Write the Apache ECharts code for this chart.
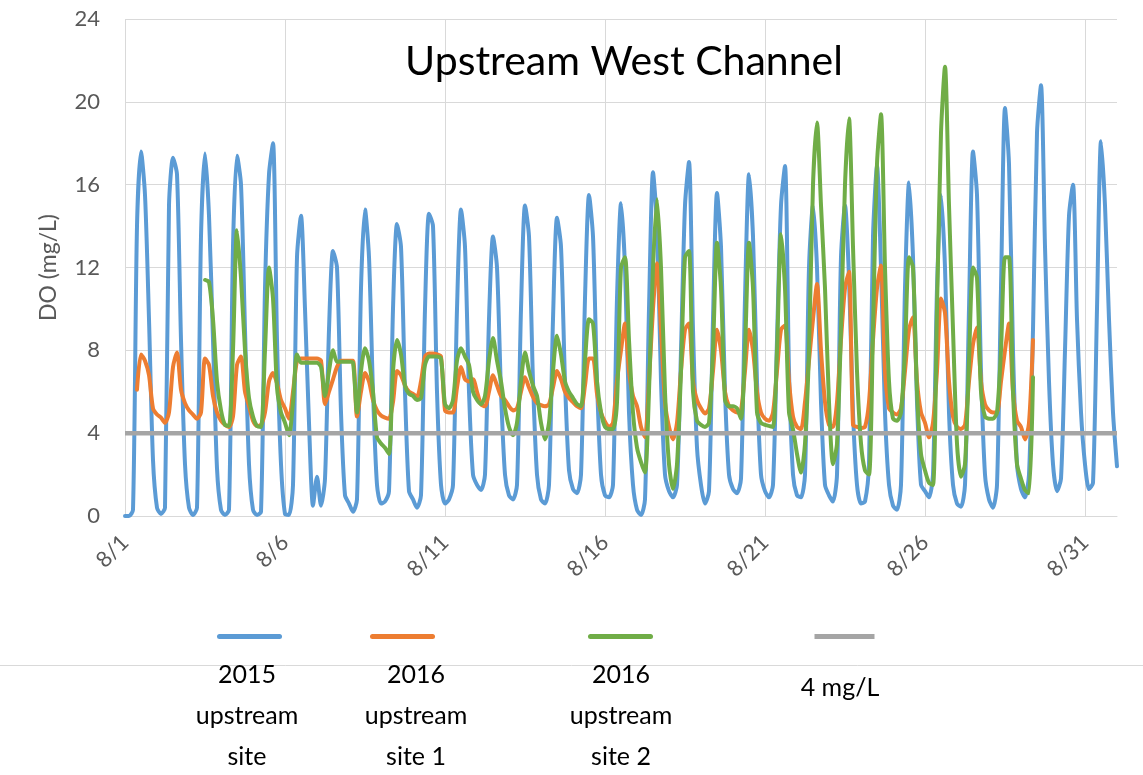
<!DOCTYPE html>
<html><head><meta charset="utf-8">
<script src="https://cdn.jsdelivr.net/npm/echarts@6/dist/echarts.min.js"></script>
<style>html,body{margin:0;padding:0;background:#fff}#c{width:1143px;height:775px}</style>
</head><body><div id="c"></div>
<script>
// Sample times within each day (hours); each row below = one day starting 8/1
const sampleHours = [0, 3, 6, 9, 12, 15, 18, 21];
const xTickLabels = ['8/1', '8/6', '8/11', '8/16', '8/21', '8/26', '8/31'];
const seriesNames = ['2015 upstream site', '2016 upstream site 1', '2016 upstream site 2', '4 mg/L'];
const thresholdDO = 4;

const upstream2015 = [
  [0.0, 0.0, 0.3, 14.0, 17.6, 15.5, 9.5, 2.7],
  [0.4, 0.1, 0.4, 15.0, 17.3, 16.5, 8.5, 2.5],
  [0.4, 0.05, 0.4, 13.5, 17.5, 14.5, 8.5, 2.3],
  [0.3, 0.05, 0.3, 13.0, 17.4, 16.0, 9.0, 2.5],
  [0.3, 0.05, 0.2, 11.0, 16.5, 18.0, 8.5, 2.5],
  [0.1, 0.05, 1.5, 12.5, 14.5, 10.0, 4.5, 0.5],
  [1.9, 0.5, 1.8, 9.0, 12.8, 12.0, 5.0, 1.0],
  [0.6, 0.2, 0.8, 11.0, 14.8, 12.5, 6.0, 1.5],
  [0.6, 0.7, 1.2, 10.0, 14.1, 13.0, 6.0, 1.2],
  [0.8, 0.4, 1.0, 10.0, 14.6, 14.0, 6.0, 1.5],
  [0.6, 0.8, 1.5, 10.0, 14.8, 13.0, 6.0, 2.0],
  [1.5, 1.25, 2.0, 9.5, 13.5, 12.0, 6.0, 2.0],
  [1.0, 0.8, 1.5, 10.0, 15.0, 13.5, 6.5, 2.0],
  [0.8, 0.6, 1.5, 9.5, 14.4, 13.0, 6.5, 2.2],
  [1.3, 1.1, 2.0, 10.5, 15.5, 13.5, 6.5, 2.0],
  [1.0, 0.9, 1.5, 10.5, 15.1, 12.0, 5.0, 1.5],
  [0.3, 0.05, 0.8, 10.0, 16.6, 14.0, 6.5, 2.0],
  [1.2, 0.9, 1.5, 8.0, 15.0, 17.1, 9.0, 3.3],
  [1.5, 0.6, 1.2, 9.5, 15.6, 13.0, 6.0, 2.0],
  [1.3, 1.1, 1.8, 10.5, 16.5, 13.5, 6.5, 2.0],
  [1.2, 0.9, 1.5, 8.5, 15.0, 16.9, 7.0, 2.0],
  [1.0, 0.9, 2.0, 12.0, 15.0, 12.0, 5.5, 1.5],
  [1.0, 0.7, 2.0, 12.5, 15.0, 11.5, 5.0, 1.5],
  [0.6, 0.7, 2.5, 13.5, 16.9, 12.0, 5.0, 1.5],
  [0.5, 0.3, 1.5, 11.0, 16.1, 12.5, 5.5, 1.5],
  [1.2, 0.9, 2.0, 11.0, 15.5, 12.0, 5.0, 1.5],
  [0.6, 0.45, 1.5, 10.0, 17.6, 15.5, 7.0, 2.0],
  [0.8, 0.4, 1.5, 11.0, 19.7, 17.0, 8.0, 2.5],
  [1.3, 0.9, 2.0, 9.0, 18.5, 20.8, 13.0, 6.5],
  [2.5, 1.2, 1.8, 8.0, 14.5, 16.0, 9.5, 5.0],
  [2.5, 1.3, 1.6, 10.0, 18.1, 15.0, 9.5, 5.0],
  [2.4]
];

const upstream2016Site1 = [
  [null, null, null, 6.1, 7.8, 7.5, 6.8, 5.2],
  [4.9, 4.75, 4.5, 5.0, 7.2, 7.9, 6.1, 5.45],
  [5.1, 4.9, 4.7, 5.0, 7.6, 7.3, 5.8, 5.0],
  [4.6, 4.4, 4.3, 4.8, 7.3, 7.7, 6.0, 5.3],
  [4.6, 4.35, 4.4, 5.0, 6.5, 6.9, 6.4, 5.6],
  [5.2, 4.7, 6.0, 7.5, 7.6, 7.6, 7.6, 7.6],
  [7.6, 7.5, 5.4, 6.0, 6.6, 7.2, 7.5, 7.5],
  [7.5, 7.5, 4.8, 6.0, 6.9, 6.5, 5.6, 5.1],
  [4.85, 4.75, 4.7, 5.5, 7.0, 6.8, 6.3, 6.0],
  [5.9, 5.75, 6.5, 7.7, 7.85, 7.85, 7.8, 7.7],
  [5.1, 5.0, 5.0, 6.2, 7.2, 6.6, 6.5, 6.6],
  [6.0, 5.4, 5.3, 6.0, 6.8, 6.3, 5.8, 5.6],
  [5.3, 5.1, 5.2, 6.0, 6.7, 6.2, 5.75, 5.45],
  [5.35, 5.3, 5.4, 6.2, 7.0, 6.6, 6.0, 5.7],
  [5.5, 5.3, 5.2, 6.3, 7.6, 7.6, 5.9, 5.0],
  [4.55, 4.3, 4.5, 6.5, 8.0, 9.3, 7.0, 5.8],
  [5.3, 4.3, 3.8, 6.5, 10.0, 12.2, 9.0, 5.5],
  [4.3, 3.7, 4.5, 7.0, 9.0, 9.3, 6.5, 5.6],
  [5.2, 4.95, 5.2, 7.0, 9.0, 8.0, 6.0, 5.3],
  [5.1, 5.0, 5.1, 7.0, 9.0, 8.0, 6.0, 5.0],
  [4.7, 4.6, 5.0, 7.0, 9.0, 9.2, 6.5, 4.8],
  [4.3, 4.2, 5.5, 7.5, 9.5, 11.2, 8.0, 5.5],
  [4.4, 4.3, 5.5, 8.5, 11.0, 11.8, 4.4, 4.3],
  [4.25, 4.3, 5.5, 8.5, 11.0, 12.1, 7.0, 5.2],
  [5.0, 4.9, 5.2, 7.0, 9.0, 9.6, 6.5, 5.0],
  [4.5, 3.8, 4.5, 7.0, 10.5, 9.8, 6.5, 4.8],
  [4.3, 4.2, 4.4, 6.5, 8.3, 9.1, 6.5, 5.4],
  [5.1, 5.0, 5.0, 6.5, 8.0, 9.3, 6.0, 4.6],
  [4.3, 3.7, 4.5, 8.5]
];

const upstream2016Site2 = [
  [],
  [],
  [null, null, null, null, 11.4, 11.3, 9.5, 6.5],
  [5.1, 4.4, 4.35, 8.0, 13.8, 11.5, 8.0, 5.7],
  [4.8, 4.35, 4.3, 8.0, 12.0, 10.5, 6.2, 5.0],
  [4.5, 3.9, 5.5, 7.8, 7.4, 7.4, 7.4, 7.4],
  [7.4, 7.2, 5.8, 7.0, 8.0, 7.45, 7.45, 7.45],
  [7.45, 7.4, 5.0, 7.0, 8.1, 7.5, 6.0, 3.8],
  [3.5, 3.3, 3.0, 7.0, 8.5, 7.8, 6.3, 5.9],
  [5.8, 5.6, 5.7, 7.3, 7.7, 7.7, 7.7, 7.6],
  [5.4, 5.2, 5.6, 7.5, 8.1, 7.7, 7.3, 6.0],
  [5.6, 5.4, 5.8, 7.5, 8.6, 7.5, 6.5, 5.2],
  [4.3, 3.9, 4.5, 6.5, 7.9, 7.0, 6.3, 5.8],
  [4.5, 3.7, 4.5, 7.0, 8.7, 7.8, 6.5, 6.0],
  [5.7, 5.4, 5.3, 7.5, 9.5, 9.3, 6.5, 5.0],
  [4.3, 4.2, 4.2, 5.5, 12.0, 12.5, 8.5, 5.0],
  [3.3, 2.6, 2.1, 6.0, 12.0, 15.3, 12.0, 6.0],
  [2.5, 1.3, 2.5, 7.0, 12.5, 12.8, 6.0, 4.6],
  [4.4, 4.3, 4.5, 8.0, 13.2, 11.0, 5.6, 5.3],
  [5.3, 5.2, 4.7, 8.0, 13.2, 11.0, 5.0, 4.5],
  [4.4, 4.35, 4.3, 8.0, 13.6, 11.0, 5.0, 4.2],
  [3.0, 2.1, 3.5, 8.0, 16.0, 19.0, 15.0, 11.0],
  [5.5, 2.5, 3.5, 9.0, 16.0, 19.2, 13.0, 7.0],
  [3.5, 2.2, 2.0, 9.0, 17.0, 19.4, 12.0, 6.5],
  [4.7, 4.6, 5.0, 8.0, 12.5, 12.0, 6.0, 3.0],
  [2.2, 1.6, 1.5, 10.0, 18.5, 21.7, 15.0, 9.0],
  [3.5, 1.9, 2.5, 7.5, 12.0, 11.5, 6.0, 4.8],
  [4.7, 4.7, 5.0, 8.0, 12.5, 12.5, 6.0, 2.5],
  [1.8, 1.25, 1.1, 6.7]
];

function toPoints(rows) {
  const pts = [];
  rows.forEach((row, d) => row.forEach((v, k) => {
    if (v !== null && v !== undefined) pts.push([d + sampleHours[k] / 24, v]);
  }));
  return pts;
}

const FONT = 'Lato, "Open Sans", sans-serif';
const chart = echarts.init(document.getElementById('c'), null, {renderer: 'canvas'});
const lineSeries = (name, rows, color) => ({
  name, type: 'line', data: toPoints(rows), symbol: 'none', smooth: 0.25,
  lineStyle: {color, width: 4, join: 'round', cap: 'round'}, itemStyle: {color}
});
const legendLefts = [217, 370, 588, 812];
chart.setOption({
  animation: false,
  backgroundColor: '#ffffff',
  grid: {left: 125, right: 26, top: 19, bottom: 259, containLabel: false},
  xAxis: {
    type: 'value', min: 0, max: 31, interval: 5,
    axisLine: {show: true, lineStyle: {color: '#d9d9d9', width: 1}},
    axisTick: {show: false},
    axisLabel: {
      rotate: 45, margin: 23, fontSize: 22, color: '#595959', fontFamily: FONT,
      showMaxLabel: false,
      formatter: v => (v % 5 === 0 && v / 5 < xTickLabels.length) ? xTickLabels[v / 5] : ''
    },
    splitLine: {show: true, showMaxLine: false, lineStyle: {color: '#d9d9d9', width: 1}}
  },
  yAxis: {
    type: 'value', min: 0, max: 24, interval: 4,
    name: 'DO (mg/L)', nameLocation: 'middle', nameRotate: 90, nameGap: 65,
    nameTextStyle: {fontSize: 23, color: '#595959', fontFamily: FONT},
    axisLine: {show: false}, axisTick: {show: false},
    axisLabel: {fontSize: 22, color: '#595959', margin: 25, fontFamily: FONT},
    splitLine: {show: true, lineStyle: {color: '#d9d9d9', width: 1}}
  },
  legend: seriesNames.map((n, i) => ({
    data: [n], left: legendLefts[i], top: 634, itemWidth: 60, itemHeight: 5,
    padding: 0, itemGap: 0, selectedMode: false, formatter: () => '',
    lineStyle: {width: 5}
  })),
  graphic: [
    {type: 'line', shape: {x1: 0, y1: 665.5, x2: 1143, y2: 665.5}, style: {stroke: '#d9d9d9', lineWidth: 1}, z: 1},
    {type: 'text', x: 624, y: 62, z: 10, style: {text: 'Upstream West Channel', textAlign: 'center', textVerticalAlign: 'middle', fontSize: 41, fontFamily: FONT, fill: '#000'}},
    {type: 'text', x: 247, y: 654.5, z: 10, style: {text: '2015\nupstream\nsite', textAlign: 'center', textVerticalAlign: 'top', fontSize: 25, lineHeight: 41, fontFamily: FONT, fill: '#000'}},
    {type: 'text', x: 416, y: 654.5, z: 10, style: {text: '2016\nupstream\nsite 1', textAlign: 'center', textVerticalAlign: 'top', fontSize: 25, lineHeight: 41, fontFamily: FONT, fill: '#000'}},
    {type: 'text', x: 621, y: 654.5, z: 10, style: {text: '2016\nupstream\nsite 2', textAlign: 'center', textVerticalAlign: 'top', fontSize: 25, lineHeight: 41, fontFamily: FONT, fill: '#000'}},
    {type: 'text', x: 840, y: 688, z: 10, style: {text: '4 mg/L', textAlign: 'center', textVerticalAlign: 'middle', fontSize: 25, fontFamily: FONT, fill: '#000'}}
  ],
  series: [
    lineSeries(seriesNames[0], upstream2015, '#5b9bd5'),
    lineSeries(seriesNames[1], upstream2016Site1, '#ed7d31'),
    lineSeries(seriesNames[2], upstream2016Site2, '#70ad47'),
    {name: seriesNames[3], type: 'line', symbol: 'none', data: [[0, thresholdDO], [31, thresholdDO]],
     lineStyle: {color: '#a5a5a5', width: 4.5}, itemStyle: {color: '#a5a5a5'}}
  ]
});
</script></body></html>
